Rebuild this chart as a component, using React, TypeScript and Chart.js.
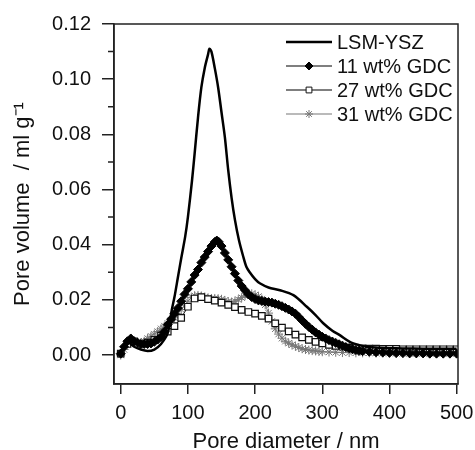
import React, { useEffect, useRef } from 'react';
import { Chart, registerables } from 'chart.js';
import { drawPoint } from 'chart.js/helpers';

Chart.register(...registerables);

const FONT = "'Liberation Sans', Arial, sans-serif";

// LSM-YSZ (solid thick line)
const lsmX = [0, 5, 10, 15, 20, 30, 40, 50, 60, 70, 76, 80, 85, 90, 96, 100, 106, 110, 115, 120, 125, 130, 132, 135, 140, 145, 150, 155, 160, 165, 170, 176, 182, 187, 192, 200, 207, 220, 237, 257, 277, 290, 301, 315, 326, 341, 355, 366, 380, 400, 420, 450, 480, 500];
const lsmY = [0.0, 0.003, 0.005, 0.004, 0.003, 0.002, 0.0015, 0.002, 0.004, 0.008, 0.0163, 0.021, 0.028, 0.035, 0.043, 0.05, 0.063, 0.073, 0.086, 0.097, 0.104, 0.109, 0.111, 0.11, 0.104, 0.097, 0.088, 0.079, 0.067, 0.057, 0.049, 0.0416, 0.036, 0.032, 0.03, 0.0275, 0.026, 0.0245, 0.0235, 0.0217, 0.0175, 0.0145, 0.0116, 0.0088, 0.0072, 0.0048, 0.0036, 0.003, 0.0027, 0.0025, 0.0024, 0.0023, 0.0023, 0.0023];

// 11 wt% GDC (filled diamonds)
const gdc11X = [0, 5, 10, 15, 20, 25, 30, 35, 40, 45, 50, 55, 60, 65, 70, 75, 80, 85, 90, 95, 100, 105, 110, 115, 120, 125, 130, 135, 140, 143, 146, 150, 155, 160, 165, 170, 175, 180, 185, 190, 195, 200, 205, 210, 215, 220, 225, 230, 235, 240, 245, 250, 255, 260, 265, 270, 275, 280, 285, 290, 295, 300, 305, 310, 315, 320, 325, 330, 335, 340, 345, 350, 355, 360, 370, 380, 390, 400, 410, 420, 430, 440, 450, 460, 470, 480, 490, 500];
const gdc11Y = [0.0005, 0.003, 0.005, 0.006, 0.005, 0.0045, 0.004, 0.004, 0.004, 0.0042, 0.0048, 0.0056, 0.0066, 0.0085, 0.011, 0.013, 0.015, 0.017, 0.0195, 0.022, 0.024, 0.0265, 0.029, 0.031, 0.0335, 0.0355, 0.0375, 0.0395, 0.041, 0.0415, 0.041, 0.0395, 0.037, 0.0345, 0.032, 0.0295, 0.027, 0.025, 0.0235, 0.022, 0.021, 0.0203, 0.0198, 0.0196, 0.0194, 0.0192, 0.019, 0.0186, 0.0182, 0.0177, 0.0171, 0.0165, 0.0158, 0.015, 0.0138, 0.0125, 0.0113, 0.0102, 0.0092, 0.0082, 0.0074, 0.0066, 0.006, 0.0054, 0.0049, 0.0044, 0.0039, 0.0034, 0.0029, 0.0025, 0.0021, 0.0018, 0.0016, 0.0014, 0.0012, 0.001, 0.0009, 0.0008, 0.0007, 0.0007, 0.0006, 0.0006, 0.0006, 0.0005, 0.0005, 0.0005, 0.0005, 0.0005];

// 27 wt% GDC (open squares)
const gdc27X = [0, 10, 20, 30, 40, 50, 60, 70, 80, 90, 100, 110, 120, 130, 140, 150, 160, 170, 180, 190, 200, 210, 220, 230, 240, 250, 260, 270, 280, 290, 300, 310, 320, 330, 340, 350, 360, 370, 380, 390, 400, 410, 420, 430, 440, 450, 460, 470, 480, 490, 500];
const gdc27Y = [0.0005, 0.004, 0.005, 0.004, 0.0045, 0.0055, 0.007, 0.0085, 0.0105, 0.0135, 0.0175, 0.0205, 0.021, 0.0203, 0.0197, 0.019, 0.0182, 0.0174, 0.0164, 0.0156, 0.015, 0.0142, 0.0132, 0.0115, 0.0099, 0.0086, 0.0074, 0.0064, 0.0055, 0.0048, 0.0042, 0.0037, 0.0033, 0.003, 0.0027, 0.0025, 0.0024, 0.0023, 0.0023, 0.0022, 0.0022, 0.0022, 0.0021, 0.0021, 0.0021, 0.0021, 0.0021, 0.0021, 0.0021, 0.0021, 0.0021];

// 31 wt% GDC (grey asterisks)
const gdc31X = [0, 5, 10, 15, 20, 25, 30, 35, 40, 45, 50, 55, 60, 65, 70, 75, 80, 85, 90, 95, 100, 105, 110, 115, 120, 125, 130, 135, 140, 145, 150, 155, 160, 165, 170, 175, 180, 185, 190, 195, 200, 205, 210, 215, 220, 225, 230, 235, 240, 245, 250, 255, 260, 265, 270, 275, 280, 285, 290, 295, 300, 310, 320, 330, 340, 350, 360, 370, 380, 390, 400, 410, 420, 430, 440, 450, 460, 470, 480, 490, 500];
const gdc31Y = [0.0, 0.002, 0.004, 0.005, 0.005, 0.0045, 0.0045, 0.005, 0.006, 0.0068, 0.0076, 0.0085, 0.0095, 0.0105, 0.0115, 0.0125, 0.0135, 0.015, 0.0165, 0.018, 0.0195, 0.0208, 0.0215, 0.0216, 0.0214, 0.021, 0.0207, 0.0205, 0.0205, 0.0204, 0.0202, 0.0198, 0.0194, 0.0192, 0.0195, 0.0201, 0.0208, 0.0215, 0.022, 0.0222, 0.0218, 0.0212, 0.0203, 0.0182, 0.0152, 0.0122, 0.0095, 0.0076, 0.0061, 0.005, 0.0043, 0.0037, 0.0032, 0.0027, 0.0023, 0.002, 0.0018, 0.0016, 0.0015, 0.0013, 0.0012, 0.0011, 0.001, 0.0009, 0.0009, 0.0008, 0.0008, 0.0008, 0.0007, 0.0007, 0.0007, 0.0007, 0.0006, 0.0006, 0.0006, 0.0006, 0.0006, 0.0006, 0.0006, 0.0006, 0.0006];

const seriesLabels = ['LSM-YSZ', '11 wt% GDC', '27 wt% GDC', '31 wt% GDC'];
const xTicks = [0, 100, 200, 300, 400, 500];
const yTicks = [0, 0.02, 0.04, 0.06, 0.08, 0.1, 0.12];
const yMinorTicks = [0.01, 0.03, 0.05, 0.07, 0.09, 0.11];

const pts = (xs: number[], ys: number[]) => xs.map((x, i) => ({ x, y: ys[i] }));

const AXIS = '#222';
const GREY = '#777';

const decor = {
  id: 'decor',
  afterDraw(chart: any) {
    const { ctx, chartArea: a, scales } = chart;
    ctx.save();
    // frame
    ctx.strokeStyle = AXIS;
    ctx.lineWidth = 1.5;
    ctx.strokeRect(a.left, a.top, a.right - a.left, a.bottom - a.top);
    // minor ticks on y
    const ys = scales.y;
    ctx.beginPath();
    yMinorTicks.forEach((v) => {
      const py = ys.getPixelForValue(v);
      ctx.moveTo(a.left - 6, py);
      ctx.lineTo(a.left, py);
    });
    ctx.stroke();
    // legend
    const x0 = a.right - 172;
    const x1 = a.right - 126;
    const xm = (x0 + x1) / 2;
    const rowY = [a.top + 18, a.top + 42, a.top + 66, a.top + 90];
    ctx.font = `20px ${FONT}`;
    ctx.textBaseline = 'middle';
    ctx.textAlign = 'left';
    chart.data.datasets.forEach((ds: any, i: number) => {
      const y = rowY[i];
      ctx.strokeStyle = ds.borderColor;
      ctx.lineWidth = i === 0 ? 2.5 : 1.2;
      ctx.beginPath();
      ctx.moveTo(x0, y);
      ctx.lineTo(x1, y);
      ctx.stroke();
      if (ds.pointRadius > 0) {
        ctx.fillStyle = ds.pointBackgroundColor;
        ctx.strokeStyle = ds.pointBorderColor;
        ctx.lineWidth = 1;
        drawPoint(ctx, { pointStyle: ds.pointStyle, radius: ds.pointRadius - 0.5, borderWidth: 1, rotation: 0 }, xm, y);
      }
      ctx.fillStyle = '#111';
      ctx.fillText(ds.label, x1 + 5, y + 1);
    });
    ctx.restore();
  },
};

export default function App() {
  const ref = useRef<HTMLCanvasElement>(null);
  useEffect(() => {
    if (!ref.current) return;
    Chart.defaults.font.family = FONT;
    const chart = new Chart(ref.current, {
      type: 'line',
      data: {
        datasets: [
          {
            label: seriesLabels[0],
            data: pts(lsmX, lsmY),
            borderColor: '#000',
            borderWidth: 2.5,
            pointRadius: 0,
            tension: 0.3,
            fill: false,
          },
          {
            label: seriesLabels[1],
            data: pts(gdc11X, gdc11Y),
            borderColor: '#000',
            borderWidth: 3,
            pointStyle: 'rectRot',
            pointRadius: 4.5,
            pointBackgroundColor: '#000',
            pointBorderColor: '#000',
            pointBorderWidth: 1,
            tension: 0.2,
            fill: false,
          },
          {
            label: seriesLabels[2],
            data: pts(gdc27X, gdc27Y),
            borderColor: '#000',
            borderWidth: 1,
            pointStyle: 'rect',
            pointRadius: 4.6,
            pointBackgroundColor: '#fff',
            pointBorderColor: '#111',
            pointBorderWidth: 1.2,
            tension: 0.2,
            fill: false,
          },
          {
            label: seriesLabels[3],
            data: pts(gdc31X, gdc31Y),
            borderColor: GREY,
            borderWidth: 1,
            pointStyle: 'star',
            pointRadius: 4.5,
            pointBackgroundColor: GREY,
            pointBorderColor: GREY,
            pointBorderWidth: 1,
            tension: 0.2,
            fill: false,
          },
        ],
      },
      options: {
        responsive: false,
        animation: false,
        layout: { padding: { top: 24, right: 17, left: 0, bottom: 0 } },
        plugins: { legend: { display: false }, tooltip: { enabled: false } },
        scales: {
          x: {
            type: 'linear',
            min: -10,
            max: 502,
            afterBuildTicks: (s: any) => {
              s.ticks = xTicks.map((v) => ({ value: v }));
            },
            afterFit: (s: any) => {
              s.height = 66;
              s.paddingLeft = 0;
              s.paddingRight = 0;
            },
            grid: { drawOnChartArea: false, drawTicks: true, tickLength: 10, color: AXIS, lineWidth: 1.5 },
            border: { display: true, color: AXIS, width: 1.5 },
            ticks: {
              color: '#111',
              font: { size: 20, family: FONT },
              padding: 7,
              maxRotation: 0,
              autoSkip: false,
              callback: (v: any) => String(v),
            },
            title: {
              display: true,
              text: 'Pore diameter / nm',
              color: '#111',
              font: { size: 22, family: FONT, lineHeight: 0.8 },
              padding: { top: 0, bottom: -1 },
            },
          },
          y: {
            type: 'linear',
            min: -0.0105,
            max: 0.12,
            afterBuildTicks: (s: any) => {
              s.ticks = yTicks.map((v) => ({ value: v }));
            },
            afterFit: (s: any) => {
              s.width = 114;
              s.paddingTop = 0;
              s.paddingBottom = 0;
            },
            grid: { drawOnChartArea: false, drawTicks: true, tickLength: 12, color: AXIS, lineWidth: 1.5 },
            border: { display: true, color: AXIS, width: 1.5 },
            ticks: {
              color: '#111',
              font: { size: 20, family: FONT },
              padding: 11,
              autoSkip: false,
              callback: (v: any) => Number(v).toFixed(2),
            },
            title: {
              display: true,
              text: 'Pore volume  / ml g\u207B\u00B9',
              color: '#111',
              font: { size: 22, family: FONT, lineHeight: 0.8 },
              padding: { top: 14, bottom: 0 },
            },
          },
        },
      },
      plugins: [decor],
    });
    return () => chart.destroy();
  }, []);
  return (
    <div style={{ position: 'fixed', left: 0, top: 0, width: 475, height: 450, background: '#fff' }}>
      <canvas ref={ref} width={475} height={450} />
    </div>
  );
}
